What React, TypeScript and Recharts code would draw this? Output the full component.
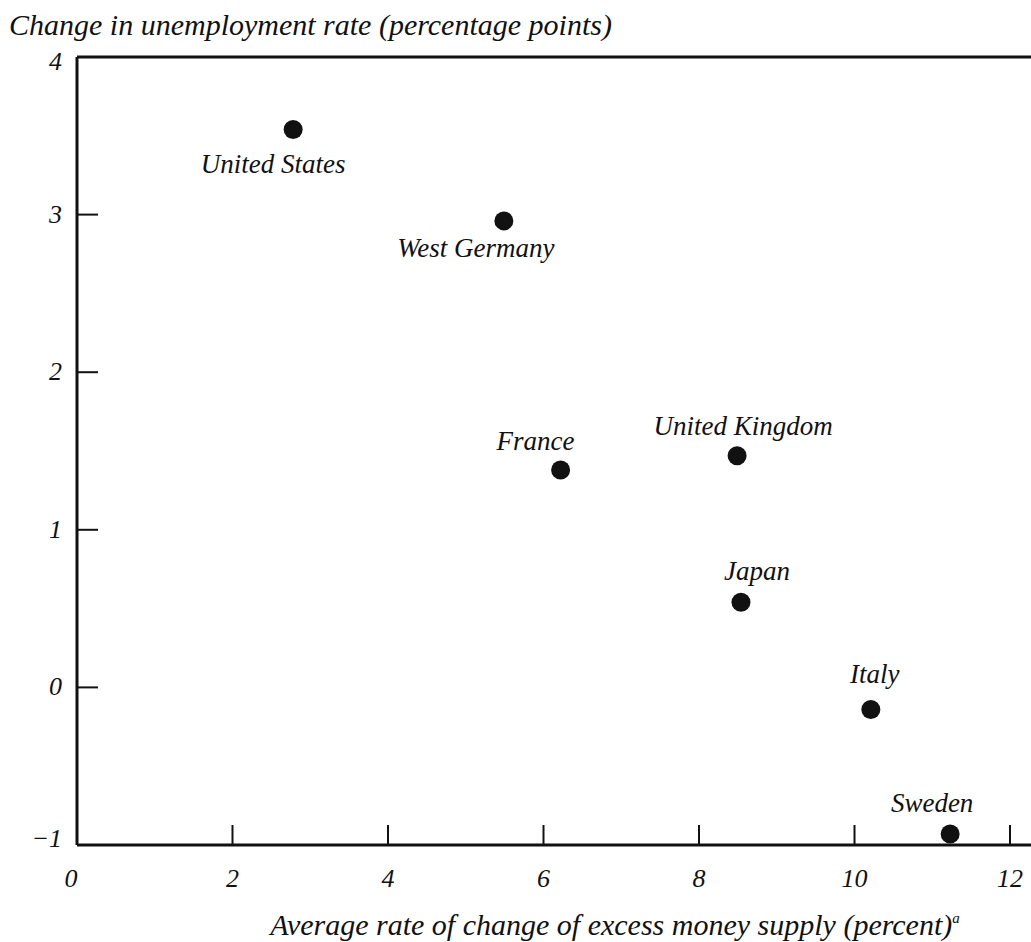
import { ScatterChart, Scatter, XAxis, YAxis, ReferenceLine } from 'recharts';

// Values (x: percent, y: percentage points).
const countries = ['United States', 'West Germany', 'France', 'United Kingdom', 'Japan', 'Italy', 'Sweden'];
const moneyGrowth = [2.78, 5.49, 6.22, 8.49, 8.54, 10.21, 11.23];
const unemploymentChange = [3.54, 2.96, 1.38, 1.47, 0.54, -0.14, -0.93];
const xTicks = [0, 2, 4, 6, 8, 10, 12];
const yTicks = [-1, 0, 1, 2, 3, 4];

// where each country's name sits relative to its dot (px)
const labelOffsets: Record<string, [number, number]> = {
  'United States': [-20, 35],
  'West Germany': [-28, 27],
  France: [-25, -29],
  'United Kingdom': [6, -30],
  Japan: [16, -31],
  Italy: [4, -35],
  Sweden: [-18, -31],
};

const FONT = '"Liberation Serif", "Times New Roman", serif';
const INK = '#111';

const points = countries.map((name, i) => ({ name, x: moneyGrowth[i], y: unemploymentChange[i] }));

const fmtTick = (v: number) => (v < 0 ? `\u2212${Math.abs(v)}` : String(v));

function XTick({ x, y, payload }: any) {
  const v = payload.value;
  return (
    <g>
      {v !== 0 && <line x1={x} x2={x} y1={y} y2={y - 20} stroke={INK} strokeWidth={2} />}
      <text x={v === 0 ? x - 6 : x} y={y + 42} textAnchor="middle" fontFamily={FONT} fontStyle="italic"
            fontSize={26} fill={INK}>
        {fmtTick(v)}
      </text>
    </g>
  );
}

function YTick({ x, y, payload }: any) {
  const v = payload.value;
  return (
    <g>
      {v !== 4 && v !== -1 && <line x1={x} x2={x + 21} y1={y} y2={y} stroke={INK} strokeWidth={2} />}
      <text x={x - 15} y={y + (v === 4 ? 13 : v === -1 ? 2 : 8)} textAnchor="end" fontFamily={FONT}
            fontStyle="italic" fontSize={26} fill={INK}>
        {fmtTick(v)}
      </text>
    </g>
  );
}

function Dot({ cx, cy, payload }: any) {
  const [dx, dy] = labelOffsets[payload.name] ?? [0, -30];
  return (
    <g>
      <circle cx={cx} cy={cy} r={9.5} fill={INK} />
      <text x={cx + dx} y={cy + dy} textAnchor="middle" dominantBaseline="central"
            fontFamily={FONT} fontStyle="italic" fontSize={27} fill={INK}>
        {payload.name}
      </text>
    </g>
  );
}

export default function App() {
  return (
    <div style={{ position: 'absolute', left: 0, top: 0, width: 1031, height: 942, background: '#fff' }}>
      <ScatterChart width={1031} height={942} margin={{ top: 57, right: 0, bottom: 0, left: 0 }}>
        <XAxis type="number" dataKey="x" domain={[0, 12.27]} ticks={xTicks} allowDataOverflow
               height={97} tickSize={0} tickMargin={0} tickLine={false} tick={<XTick />}
               axisLine={{ stroke: INK, strokeWidth: 3 }}
               label={{
                 content: () => (
                   <text x={615} y={935} textAnchor="middle" fontFamily={FONT} fontStyle="italic"
                         fontSize={30} fill={INK}>
                     Average rate of change of excess money supply (percent)
                     <tspan fontSize={15} dy={-12}>a</tspan>
                   </text>
                 ),
               }} />
        <YAxis type="number" dataKey="y" domain={[-1, 4]} ticks={yTicks} allowDataOverflow
               width={77} tickSize={0} tickMargin={0} tickLine={false} tick={<YTick />}
               axisLine={{ stroke: INK, strokeWidth: 3 }}
               label={{
                 content: () => (
                   <text x={9} y={35} fontFamily={FONT} fontStyle="italic" fontSize={30} fill={INK}>
                     Change in unemployment rate (percentage points)
                   </text>
                 ),
               }} />
        <ReferenceLine y={4} stroke={INK} strokeWidth={3} />
        <Scatter data={points} shape={<Dot />} isAnimationActive={false} />
      </ScatterChart>
    </div>
  );
}
